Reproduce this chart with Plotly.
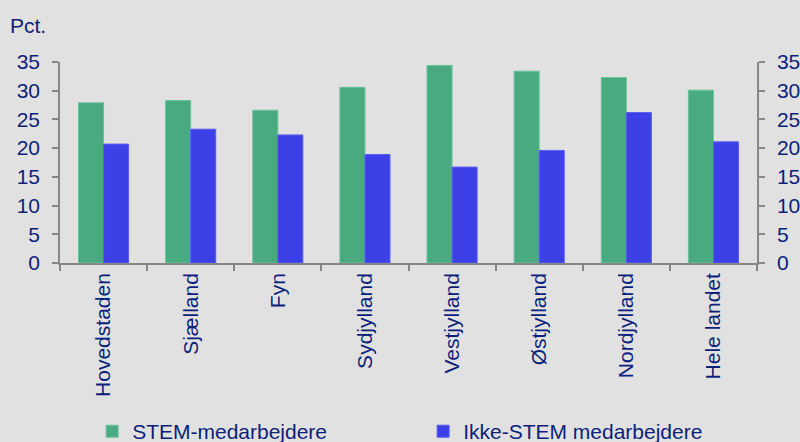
import plotly.graph_objects as go

categories = ["Hovedstaden", "Sjælland", "Fyn", "Sydjylland", "Vestjylland",
              "Østjylland", "Nordjylland", "Hele landet"]
stem = [27.9, 28.3, 26.6, 30.6, 34.4, 33.4, 32.3, 30.1]
ikke_stem = [20.7, 23.3, 22.3, 18.9, 16.7, 19.6, 26.2, 21.1]
y_ticks = [0, 5, 10, 15, 20, 25, 30, 35]

BG = "#e1e1e1"
TXT = "#0c1f7a"
AX = "#878787"
FONT = "Liberation Sans, Arial, sans-serif"

fig = go.Figure()
fig.add_trace(go.Bar(x=categories, y=stem, name="STEM-medarbejdere",
                     marker=dict(color="#49aa80", line=dict(color="#6cc29c", width=1))))
fig.add_trace(go.Bar(x=categories, y=ikke_stem, name="Ikke-STEM medarbejdere",
                     marker=dict(color="#3c40e6", line=dict(color="#5a5ef0", width=1))))
# invisible trace to carry the mirrored right axis
fig.add_trace(go.Scatter(x=categories, y=stem, yaxis="y2", mode="none",
                         showlegend=False, hoverinfo="skip"))

yax = dict(range=[0, 35], tickvals=y_ticks, showgrid=False, zeroline=False,
           showline=True, linecolor=AX, linewidth=1.5, ticks="outside",
           ticklen=6, tickcolor=AX, tickwidth=1.5, automargin=False,
           tickfont=dict(family=FONT, size=21, color=TXT), ticklabelstandoff=8)

fig.update_layout(
    width=800, height=442,
    paper_bgcolor=BG, plot_bgcolor=BG,
    margin=dict(l=60, r=43, t=62, b=179),
    barmode="group", bargap=0.425, bargroupgap=0,
    font=dict(family=FONT, color=TXT, size=21),
    xaxis=dict(showgrid=False, showline=True, linecolor=AX, linewidth=1.5,
               ticks="outside", ticklen=6, tickcolor=AX, tickwidth=1.5,
               tickson="boundaries", tickangle=-90, automargin=False,
               tickfont=dict(family=FONT, size=21, color=TXT)),
    yaxis=yax,
    yaxis2=dict(yax, overlaying="y", side="right", matches="y"),
    legend=dict(orientation="h", x=0.521, xanchor="center",
                yref="container", y=0.07, yanchor="top",
                font=dict(family=FONT, size=21, color=TXT),
                entrywidth=286, entrywidthmode="pixels",
                itemwidth=30, bgcolor="rgba(0,0,0,0)"),
    annotations=[dict(text="Pct.", xref="paper", yref="paper",
                      x=-0.0746, y=1.184, xanchor="left", yanchor="middle",
                      showarrow=False, font=dict(family=FONT, size=21, color=TXT))],
)

fig.write_html("out.html")
